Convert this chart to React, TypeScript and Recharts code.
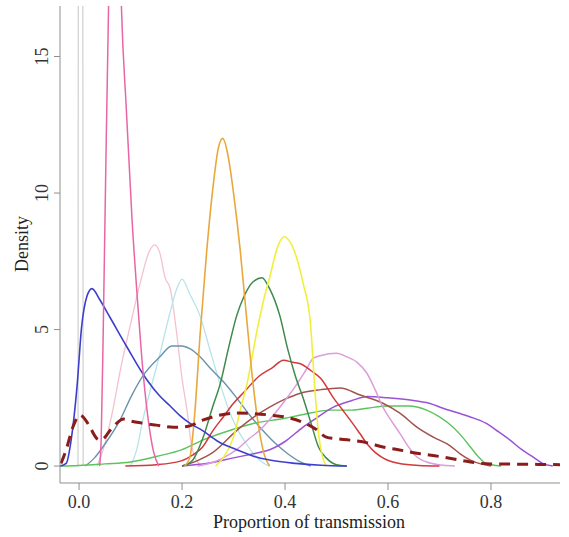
import { Label, Line, LineChart, XAxis, YAxis } from 'recharts';

type Pt = { p: number; d: number };

// density curves: [proportion, density]
const grayData: Pt[] = [
  { p: -0.002, d: 0 }, { p: -0.001, d: 25 }, { p: 0.007, d: 25 }, { p: 0.008, d: 0 },
];
const hotPinkData: Pt[] = [
  { p: 0.04, d: 0 }, { p: 0.043, d: 1 }, { p: 0.047, d: 5 }, { p: 0.052, d: 11 }, { p: 0.057, d: 16.5 },
  { p: 0.063, d: 21 }, { p: 0.07, d: 22.5 }, { p: 0.077, d: 21 }, { p: 0.082, d: 17 }, { p: 0.092, d: 13 },
  { p: 0.103, d: 9 }, { p: 0.113, d: 6.2 }, { p: 0.124, d: 3.5 }, { p: 0.135, d: 1.6 }, { p: 0.145, d: 0.5 },
  { p: 0.155, d: 0 },
];
const lightPinkData: Pt[] = [
  { p: 0.035, d: 0 }, { p: 0.05, d: 0.8 }, { p: 0.065, d: 2 }, { p: 0.08, d: 3.5 }, { p: 0.1, d: 5.2 },
  { p: 0.12, d: 6.8 }, { p: 0.135, d: 7.8 }, { p: 0.147, d: 8.1 }, { p: 0.157, d: 7.8 }, { p: 0.167, d: 6.9 },
  { p: 0.177, d: 6.5 }, { p: 0.19, d: 4.8 }, { p: 0.2, d: 3.2 }, { p: 0.21, d: 2 }, { p: 0.218, d: 0.8 },
  { p: 0.228, d: 0.2 }, { p: 0.24, d: 0 },
];
const lightCyanData: Pt[] = [
  { p: 0.1, d: 0 }, { p: 0.112, d: 0.6 }, { p: 0.124, d: 1.7 }, { p: 0.14, d: 2.9 }, { p: 0.157, d: 4.1 },
  { p: 0.175, d: 5.5 }, { p: 0.19, d: 6.5 }, { p: 0.2, d: 6.85 }, { p: 0.215, d: 6.3 }, { p: 0.235, d: 5.5 },
  { p: 0.255, d: 4.2 }, { p: 0.274, d: 3 }, { p: 0.29, d: 2.1 }, { p: 0.306, d: 1.4 }, { p: 0.322, d: 0.9 },
  { p: 0.338, d: 0.47 }, { p: 0.355, d: 0.15 }, { p: 0.37, d: 0 },
];
const steelBlueData: Pt[] = [
  { p: 0.012, d: 0 }, { p: 0.03, d: 0.3 }, { p: 0.05, d: 0.8 }, { p: 0.08, d: 1.7 }, { p: 0.1, d: 2.5 },
  { p: 0.124, d: 3.3 }, { p: 0.157, d: 4 }, { p: 0.18, d: 4.4 }, { p: 0.2, d: 4.4 }, { p: 0.215, d: 4.3 },
  { p: 0.235, d: 4 }, { p: 0.254, d: 3.6 }, { p: 0.28, d: 3.1 }, { p: 0.306, d: 2.5 }, { p: 0.33, d: 1.9 },
  { p: 0.357, d: 1.3 }, { p: 0.38, d: 0.85 }, { p: 0.404, d: 0.47 }, { p: 0.425, d: 0.2 }, { p: 0.45, d: 0 },
];
const blueData: Pt[] = [
  { p: -0.037, d: 0 }, { p: -0.025, d: 0.1 }, { p: -0.015, d: 1 }, { p: -0.004, d: 2.9 }, { p: 0.005, d: 5.1 },
  { p: 0.015, d: 6.2 }, { p: 0.025, d: 6.5 }, { p: 0.04, d: 6.1 }, { p: 0.06, d: 5.45 }, { p: 0.093, d: 4.36 },
  { p: 0.132, d: 3.15 }, { p: 0.155, d: 2.6 }, { p: 0.177, d: 2.2 }, { p: 0.196, d: 1.85 }, { p: 0.215, d: 1.57 },
  { p: 0.24, d: 1.3 }, { p: 0.27, d: 0.9 }, { p: 0.306, d: 0.6 }, { p: 0.34, d: 0.35 }, { p: 0.37, d: 0.22 },
  { p: 0.42, d: 0.1 }, { p: 0.47, d: 0.03 }, { p: 0.52, d: 0 },
];
const orangeData: Pt[] = [
  { p: 0.205, d: 0 }, { p: 0.215, d: 0.3 }, { p: 0.225, d: 2 }, { p: 0.235, d: 4.8 }, { p: 0.248, d: 7.9 },
  { p: 0.26, d: 10.2 }, { p: 0.27, d: 11.6 }, { p: 0.279, d: 12 }, { p: 0.29, d: 11.3 }, { p: 0.3, d: 10 },
  { p: 0.313, d: 7.9 }, { p: 0.325, d: 5.5 }, { p: 0.338, d: 3 }, { p: 0.35, d: 1.3 }, { p: 0.36, d: 0.4 },
  { p: 0.37, d: 0 },
];
const yellowData: Pt[] = [
  { p: 0.265, d: 0 }, { p: 0.28, d: 0.3 }, { p: 0.3, d: 1.06 }, { p: 0.315, d: 2.2 }, { p: 0.326, d: 3 },
  { p: 0.345, d: 4.9 }, { p: 0.36, d: 6.2 }, { p: 0.37, d: 6.9 }, { p: 0.385, d: 8 }, { p: 0.398, d: 8.4 },
  { p: 0.41, d: 8.2 }, { p: 0.423, d: 7.6 }, { p: 0.435, d: 6.7 }, { p: 0.449, d: 5.3 }, { p: 0.458, d: 2.8 },
  { p: 0.465, d: 1.2 }, { p: 0.472, d: 0.4 }, { p: 0.48, d: 0 },
];
const darkGreenData: Pt[] = [
  { p: 0.2, d: 0 }, { p: 0.22, d: 0.2 }, { p: 0.24, d: 1 }, { p: 0.26, d: 2.2 }, { p: 0.274, d: 3 },
  { p: 0.29, d: 4.3 }, { p: 0.306, d: 5.5 }, { p: 0.32, d: 6.2 }, { p: 0.338, d: 6.75 }, { p: 0.355, d: 6.9 },
  { p: 0.37, d: 6.5 }, { p: 0.39, d: 5.5 }, { p: 0.405, d: 4.3 }, { p: 0.42, d: 3.3 }, { p: 0.435, d: 2.5 },
  { p: 0.45, d: 1.6 }, { p: 0.465, d: 0.7 }, { p: 0.48, d: 0.3 }, { p: 0.5, d: 0.05 }, { p: 0.52, d: 0 },
];
const redData: Pt[] = [
  { p: 0.09, d: 0 }, { p: 0.15, d: 0.05 }, { p: 0.2, d: 0.2 }, { p: 0.22, d: 0.4 }, { p: 0.24, d: 0.7 },
  { p: 0.26, d: 1.3 }, { p: 0.28, d: 1.8 }, { p: 0.3, d: 2.3 }, { p: 0.32, d: 2.7 }, { p: 0.35, d: 3.3 },
  { p: 0.375, d: 3.6 }, { p: 0.397, d: 3.88 }, { p: 0.415, d: 3.8 }, { p: 0.43, d: 3.75 }, { p: 0.45, d: 3.5 },
  { p: 0.47, d: 3.2 }, { p: 0.494, d: 2.5 }, { p: 0.51, d: 2.1 }, { p: 0.526, d: 1.7 }, { p: 0.545, d: 1.2 },
  { p: 0.56, d: 0.8 }, { p: 0.575, d: 0.5 }, { p: 0.59, d: 0.3 }, { p: 0.62, d: 0.1 }, { p: 0.66, d: 0.02 },
  { p: 0.7, d: 0 },
];
const plumData: Pt[] = [
  { p: 0.23, d: 0 }, { p: 0.254, d: 0.1 }, { p: 0.28, d: 0.3 }, { p: 0.306, d: 0.6 }, { p: 0.33, d: 1 },
  { p: 0.35, d: 1.3 }, { p: 0.37, d: 1.7 }, { p: 0.4, d: 2.4 }, { p: 0.423, d: 3 }, { p: 0.44, d: 3.5 },
  { p: 0.455, d: 3.95 }, { p: 0.47, d: 4.05 }, { p: 0.5, d: 4.13 }, { p: 0.52, d: 4 }, { p: 0.54, d: 3.8 },
  { p: 0.559, d: 3.4 }, { p: 0.575, d: 2.8 }, { p: 0.59, d: 2.16 }, { p: 0.605, d: 1.7 }, { p: 0.623, d: 1.2 },
  { p: 0.64, d: 0.7 }, { p: 0.656, d: 0.33 }, { p: 0.675, d: 0.15 }, { p: 0.7, d: 0.05 }, { p: 0.73, d: 0 },
];
const brownData: Pt[] = [
  { p: 0.2, d: 0 }, { p: 0.23, d: 0.2 }, { p: 0.26, d: 0.5 }, { p: 0.306, d: 1.3 }, { p: 0.34, d: 1.8 },
  { p: 0.37, d: 2.16 }, { p: 0.4, d: 2.45 }, { p: 0.43, d: 2.67 }, { p: 0.47, d: 2.8 }, { p: 0.507, d: 2.86 },
  { p: 0.546, d: 2.6 }, { p: 0.59, d: 2.3 }, { p: 0.623, d: 1.94 }, { p: 0.656, d: 1.43 }, { p: 0.688, d: 1.06 },
  { p: 0.72, d: 0.75 }, { p: 0.74, d: 0.45 }, { p: 0.76, d: 0.22 }, { p: 0.78, d: 0.08 }, { p: 0.8, d: 0 },
];
const greenData: Pt[] = [
  { p: -0.037, d: 0 }, { p: 0, d: 0.02 }, { p: 0.05, d: 0.08 }, { p: 0.1, d: 0.15 }, { p: 0.15, d: 0.35 },
  { p: 0.2, d: 0.6 }, { p: 0.24, d: 0.95 }, { p: 0.3, d: 1.35 }, { p: 0.34, d: 1.57 }, { p: 0.4, d: 1.75 },
  { p: 0.43, d: 1.87 }, { p: 0.49, d: 2.05 }, { p: 0.53, d: 2.05 }, { p: 0.56, d: 2.12 }, { p: 0.6, d: 2.2 },
  { p: 0.64, d: 2.2 }, { p: 0.675, d: 2.05 }, { p: 0.7, d: 1.8 }, { p: 0.726, d: 1.43 }, { p: 0.745, d: 1.05 },
  { p: 0.76, d: 0.7 }, { p: 0.775, d: 0.35 }, { p: 0.79, d: 0.1 }, { p: 0.81, d: 0.02 }, { p: 0.82, d: 0 },
];
const purpleData: Pt[] = [
  { p: 0.2, d: 0 }, { p: 0.25, d: 0.1 }, { p: 0.3, d: 0.3 }, { p: 0.35, d: 0.5 }, { p: 0.37, d: 0.6 },
  { p: 0.4, d: 0.9 }, { p: 0.435, d: 1.43 }, { p: 0.46, d: 1.75 }, { p: 0.494, d: 2.16 }, { p: 0.53, d: 2.4 },
  { p: 0.56, d: 2.55 }, { p: 0.6, d: 2.5 }, { p: 0.643, d: 2.42 }, { p: 0.68, d: 2.3 }, { p: 0.707, d: 2.12 },
  { p: 0.735, d: 1.95 }, { p: 0.76, d: 1.8 }, { p: 0.79, d: 1.57 }, { p: 0.815, d: 1.25 }, { p: 0.837, d: 0.95 },
  { p: 0.86, d: 0.6 }, { p: 0.882, d: 0.33 }, { p: 0.9, d: 0.1 }, { p: 0.92, d: 0 },
];
// overall (dashed) curve
const overallData: Pt[] = [
  { p: -0.035, d: 0.1 }, { p: -0.025, d: 0.6 }, { p: -0.012, d: 1.43 }, { p: 0.002, d: 1.87 }, { p: 0.012, d: 1.7 },
  { p: 0.021, d: 1.43 }, { p: 0.035, d: 1 }, { p: 0.041, d: 0.95 }, { p: 0.05, d: 1.05 }, { p: 0.06, d: 1.3 },
  { p: 0.075, d: 1.6 }, { p: 0.086, d: 1.72 }, { p: 0.1, d: 1.65 }, { p: 0.124, d: 1.57 }, { p: 0.15, d: 1.5 },
  { p: 0.183, d: 1.42 }, { p: 0.21, d: 1.45 }, { p: 0.24, d: 1.68 }, { p: 0.27, d: 1.85 }, { p: 0.306, d: 1.94 },
  { p: 0.34, d: 1.92 }, { p: 0.37, d: 1.87 }, { p: 0.4, d: 1.8 }, { p: 0.435, d: 1.6 }, { p: 0.46, d: 1.35 },
  { p: 0.48, d: 1.06 }, { p: 0.5, d: 1 }, { p: 0.526, d: 0.95 }, { p: 0.56, d: 0.85 }, { p: 0.59, d: 0.7 },
  { p: 0.62, d: 0.6 }, { p: 0.656, d: 0.47 }, { p: 0.7, d: 0.35 }, { p: 0.74, d: 0.22 }, { p: 0.77, d: 0.12 },
  { p: 0.8, d: 0.08 }, { p: 0.85, d: 0.07 }, { p: 0.9, d: 0.06 }, { p: 0.934, d: 0.05 },
];

const xTicks = [0, 0.2, 0.4, 0.6, 0.8];
const yTicks = [0, 5, 10, 15];

const series = [
  { key: 'gray', data: grayData, color: '#cfcfcf', width: 1.2 },
  { key: 'lightpink', data: lightPinkData, color: '#f4c2cd', width: 1.3 },
  { key: 'lightcyan', data: lightCyanData, color: '#b5e4ea', width: 1.3 },
  { key: 'steelblue', data: steelBlueData, color: '#6b93ad', width: 1.4 },
  { key: 'green', data: greenData, color: '#5cc45c', width: 1.4 },
  { key: 'purple', data: purpleData, color: '#9a52d6', width: 1.5 },
  { key: 'brown', data: brownData, color: '#a3534d', width: 1.5 },
  { key: 'plum', data: plumData, color: '#dc9ddb', width: 1.5 },
  { key: 'red', data: redData, color: '#d3383a', width: 1.5 },
  { key: 'darkgreen', data: darkGreenData, color: '#3f8a4c', width: 1.5 },
  { key: 'yellow', data: yellowData, color: '#f2ef3c', width: 1.6 },
  { key: 'orange', data: orangeData, color: '#e8a83c', width: 1.6 },
  { key: 'blue', data: blueData, color: '#3d3fcc', width: 1.6 },
  { key: 'hotpink', data: hotPinkData, color: '#e866a6', width: 1.5 },
];

const font = '"Liberation Serif", "Times New Roman", serif';
const frame = '#8f8f8f';

const YTick = ({ y, payload }: any) => (
  <text x={48} y={y} transform={`rotate(-90, 48, ${y})`} textAnchor="middle"
    fontFamily={font} fontSize={18} fill="#333">
    {payload.value}
  </text>
);

export default function App() {
  return (
    <div style={{ position: 'absolute', left: 0, top: 0 }}>
      <LineChart width={569} height={537} margin={{ top: 6, right: 9, bottom: 0, left: 0 }}>
        <XAxis dataKey="p" type="number" domain={[-0.037, 0.934]} allowDataOverflow ticks={xTicks}
          tickFormatter={(v: number) => v.toFixed(1)} height={54} stroke={frame} tickSize={7} tickMargin={5}
          tick={{ fontFamily: font, fontSize: 18, fill: '#333' }}>
          <Label content={() => (
            <text x={309} y={528} textAnchor="middle" fontFamily={font} fontSize={18} fill="#222">
              Proportion of transmission
            </text>
          )} />
        </XAxis>
        <XAxis xAxisId="top" orientation="top" type="number" domain={[0, 1]} height={0}
          tick={false} tickLine={false} stroke={frame} />
        <YAxis type="number" domain={[-0.62, 16.85]} allowDataOverflow ticks={yTicks} width={60}
          stroke={frame} tickSize={6} tick={<YTick />}>
          <Label content={() => (
            <text x={28} y={244} transform="rotate(-90, 28, 244)" textAnchor="middle"
              fontFamily={font} fontSize={18} fill="#222">
              Density
            </text>
          )} />
        </YAxis>
        <YAxis yAxisId="right" orientation="right" type="number" domain={[0, 1]} width={0}
          tick={false} tickLine={false} stroke={frame} />
        {series.map((s) => (
          <Line key={s.key} data={s.data} dataKey="d" type="monotone" stroke={s.color}
            strokeWidth={s.width} dot={false} activeDot={false} isAnimationActive={false} />
        ))}
        <Line data={overallData} dataKey="d" type="monotone" stroke="#8b1c1c" strokeWidth={3}
          strokeDasharray="11 7" dot={false} activeDot={false} isAnimationActive={false} />
      </LineChart>
    </div>
  );
}
